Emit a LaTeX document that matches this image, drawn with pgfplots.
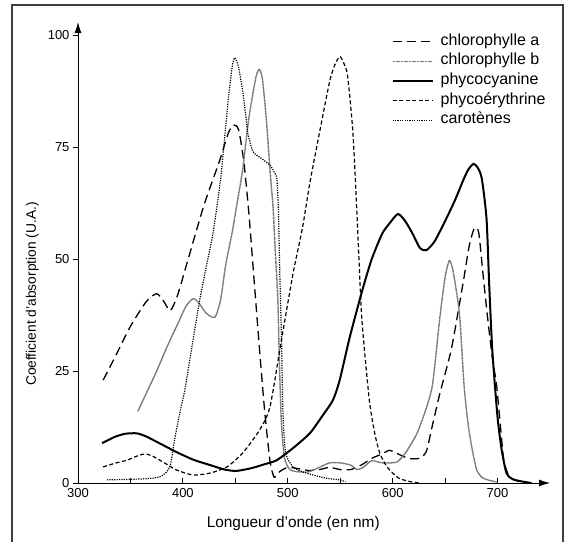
\documentclass[border=0pt]{standalone}
\usepackage{fontspec}
\setmainfont{Liberation Sans}
\usepackage{pgfplots}
\pgfplotsset{compat=1.18}
\usetikzlibrary{arrows.meta}

\begin{document}
\begin{tikzpicture}
\path[use as bounding box] (-78pt,-59pt) rectangle (486pt,483pt);
% cadre de la figure
\draw[line width=1.2pt, black!75] (-66pt,-59pt) -- (-66pt,478pt) -- (485pt,478pt) -- (485pt,-59pt);

\begin{axis}[
	at={(0pt,0pt)}, anchor=south west,
	scale only axis, width=472pt, height=461pt,
	xmin=300, xmax=750, ymin=0, ymax=103,
	axis lines=left,
	every outer x axis line/.append style={-{Latex[length=11pt,width=7pt]}},
	every outer y axis line/.append style={-{Latex[length=11pt,width=7pt]}},
	axis line style={line width=0.8pt},
	xtick={300,400,500,600,700},
	minor xtick={350,450,550,650},
	ytick={0,25,50,75,100},
	tick align=inside,
	major tick length=5pt, minor tick length=5pt,
	tick style={black, line width=0.8pt},
	y tick style={xshift=-5pt},
	ticklabel style={font=\fontsize{13}{15}\selectfont},
	/pgf/number format/assume math mode=true,
	xticklabel style={yshift=-2pt},
	yticklabel style={xshift=-5pt},
	xlabel={Longueur d’onde (en nm)},
	ylabel={Coefficient d’absorption (U.A.)},
	xlabel style={font=\fontsize{15.4}{17}\selectfont, at={(axis description cs:0.456,-0.087)}, anchor=center},
	ylabel style={font=\fontsize{13.8}{16}\selectfont, at={(axis description cs:-0.097,0.41)}, anchor=center, rotate=0},
	clip=false,
	legend image code/.code={\draw[#1] (0pt,0pt) -- (40pt,0pt);},
	legend cell align=left,
	legend style={draw=none, fill=none, at={(axis description cs:0.664,0.975)}, anchor=north west,
		font=\fontsize{16}{18}\selectfont, row sep=3.6pt, inner sep=0pt,
		nodes={inner sep=1pt, text height=10.5pt, text depth=3.5pt},
		/tikz/every odd column/.append style={column sep=6pt}},
	]

% chlorophylle a
\addplot[black, line width=1.3pt, dash pattern=on 9pt off 5pt, smooth, tension=0.4] coordinates {
(324,23) (335,28) (350,35) (365,40.5) (375,42.3) (382,40.5) (388,38.5) (395,42) (405,50)
(420,62) (435,72) (443,78) (448,80) (453,79) (458,72) (463,60) (468,45) (473,30) (478,16)
(483,5) (487,1.3) (492,2.5) (500,3.5) (510,3.2) (520,2.8) (530,3) (540,3.5) (550,3) (560,3)
(570,4) (580,5.5) (590,6.5) (597,7.3) (605,6.5) (615,5.5) (625,5.5) (632,7) (638,13) (645,20)
(656,30) (667,44.5) (673,53) (678,57) (682,56) (686,47) (690,38) (695,28) (699,22) (703,12)
(706,5) (710,2) (715,0.8) (722,0.3) (733,0)
};
\addlegendentry{chlorophylle a}

% chlorophylle b
\addplot[black!55, line width=1.4pt, dash pattern=on 1.2pt off 0.4pt, smooth, tension=0.4] coordinates {
(357,16) (365,20) (375,25) (385,30.5) (395,35.5) (403,39.5) (410,41.2) (416,40) (422,38)
(430.5,37) (436,41) (441,49) (447,56) (452,63) (457,70) (462,80) (466,86) (470,91) (473,92.4)
(476,90) (480,80) (483,70) (486,61.5) (488,52) (490.5,41) (492,27) (494,13) (497,5.5) (502,3)
(510,2.5) (520,2.5) (530,3.5) (540,4.5) (550,4.5) (560,4) (566,3) (572,3.5) (580,5) (590,4.5)
(604,4.7) (613,7) (623,11) (631,16) (638,22) (645,37) (650,46) (654,49.7) (657,48) (660,44)
(664,37) (668,22) (672,13) (676,7.3) (680,3) (685,1.3) (692,0.6) (700,0.2)
};
\addlegendentry{chlorophylle b}

% phycocyanine
\addplot[black, line width=2pt, smooth, tension=0.4] coordinates {
(323,8.9) (335,10.3) (345,11) (356,11.1) (365,10.4) (380,8.6) (394,6.9) (410,5.2) (426,4)
(440,3) (451,2.7) (465,3.3) (478,4.2) (489.5,5.1) (505,7.8) (521,11.1) (533,15) (543,18.5)
(549.5,23) (559,32.5) (571,43) (580,50) (590,55.7) (597,58) (605,60.1) (612,58.5) (619,55.7)
(626,52.5) (632,52) (640,54) (651,59) (660,63.5) (667,67.5) (672,70) (677,71.3) (681,70.5)
(685,68) (689.5,59) (692,44.5) (695,29.6) (700,14.7) (704,7.3) (708.5,2.2) (714,0.9)
(722,0.4) (732,0)
};
\addlegendentry{phycocyanine}

% phycoérythrine
\addplot[black, line width=1.2pt, dash pattern=on 4pt off 2.5pt, smooth, tension=0.4] coordinates {
(324,3.6) (335,4.4) (346.7,5.1) (356,6) (364,6.5) (371,6) (378,5.1) (386,4) (394,2.9) (409.5,1.8)
(425.7,2.2) (442,3.6) (457,6.7) (473,11.8) (483,17) (494,32) (505,46.8) (514,57) (521,67)
(530,78) (540,89.8) (545,93.5) (549.5,95.3) (553,94) (557,91) (562,78.6) (565.7,61.5) (570,39)
(573,30) (578,18) (583,11) (588,6.5) (595,3.5) (605,1.2) (615,0.4) (625,0)
};
\addlegendentry{phycoérythrine}

% carotènes
\addplot[black, line width=1.2pt, dash pattern=on 1.2pt off 1.2pt, smooth, tension=0.4] coordinates {
(327.6,0.7) (345,0.8) (360,0.9) (372,1.1) (380,1.6) (387.6,3.6) (392,9.6) (397,15.6) (402,21)
(409,31) (416,40.8) (422,48) (428.6,55.7) (436,68) (443,85) (447,93) (449.5,95) (453,93)
(457,87.5) (460,82) (462,78) (467,74) (475,72.5) (483,71) (487,69.5) (489.5,68) (491,61.5)
(492.4,46.8) (494,32.5) (495.5,15) (498,6.7) (505,3.6) (514,2.5) (524,1.8) (536,1.1) (549,0.7)
(555,0.3)
};
\addlegendentry{carotènes}

\end{axis}
\end{tikzpicture}
\end{document}
